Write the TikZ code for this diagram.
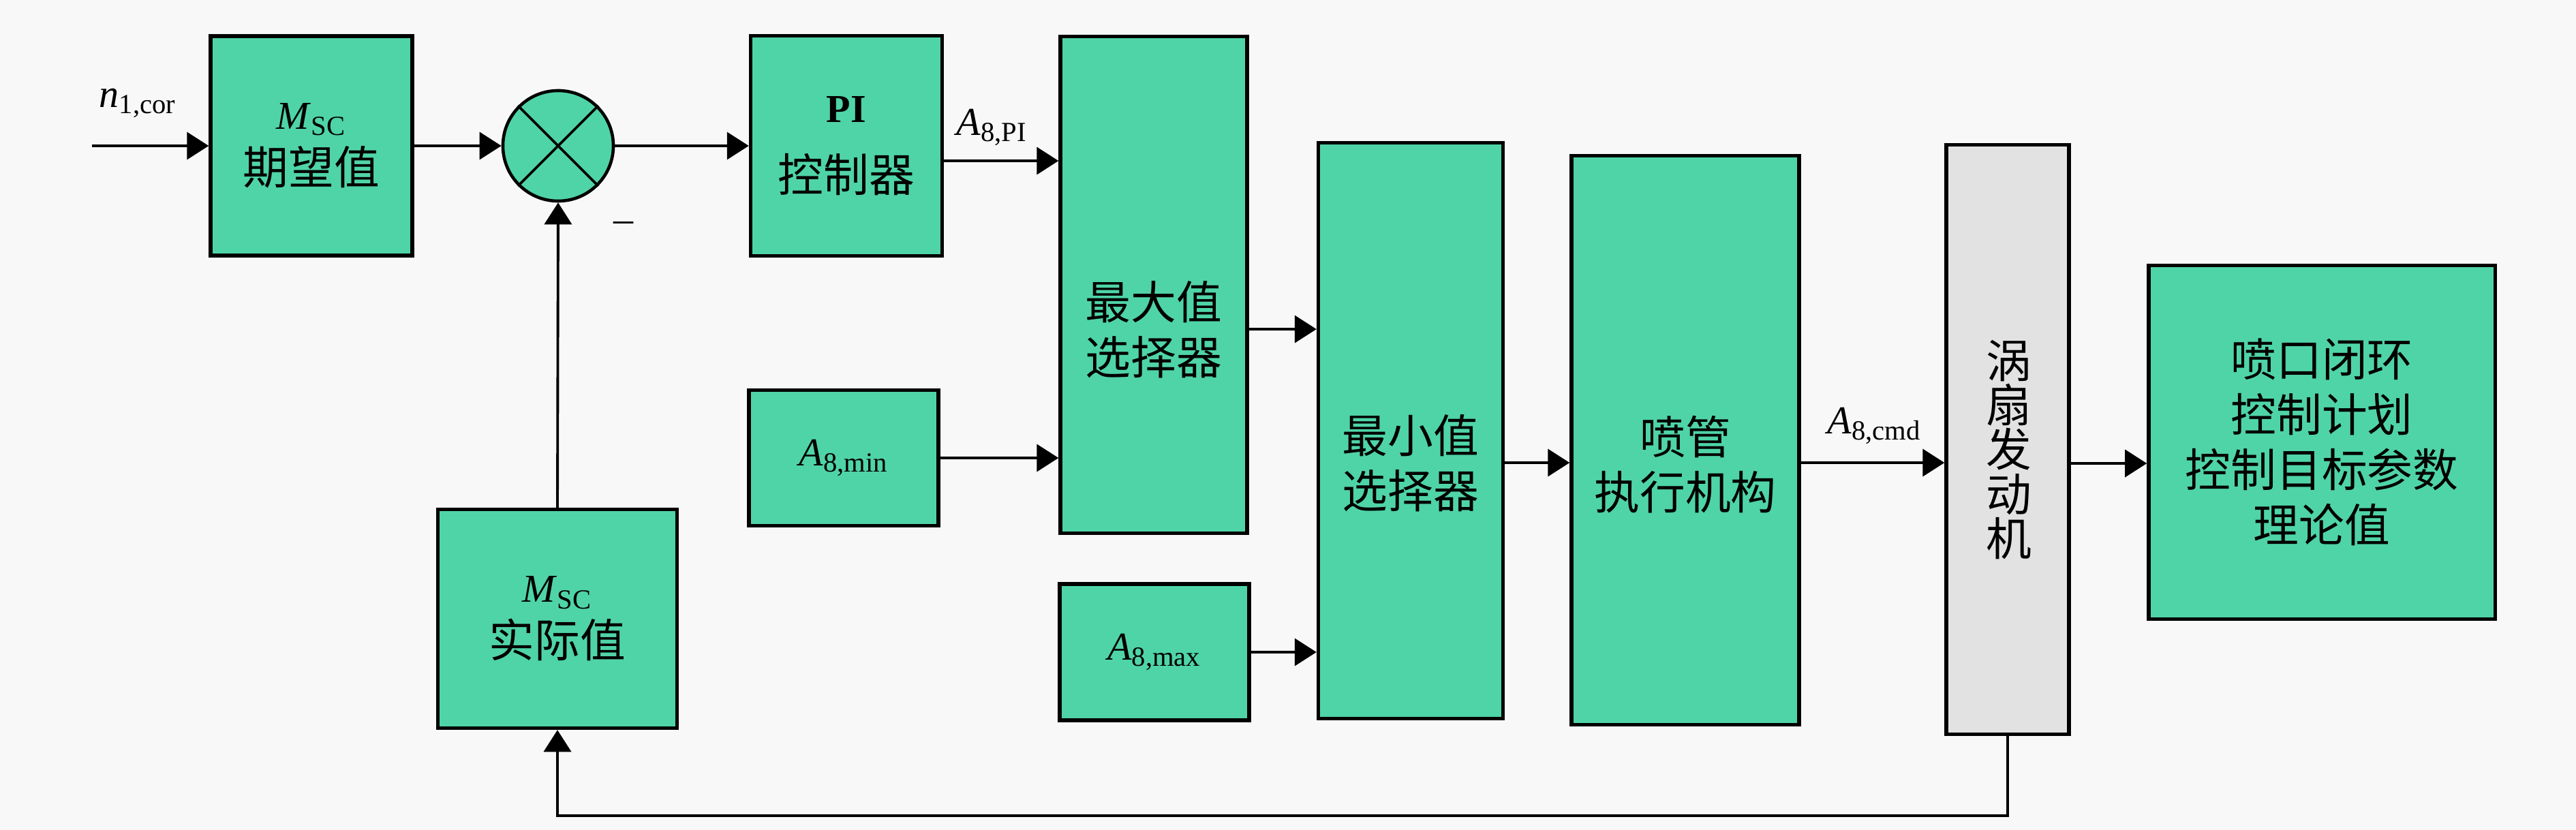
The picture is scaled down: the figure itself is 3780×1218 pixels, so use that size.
\documentclass[tikz,border=0pt]{standalone}
\usepackage{fontspec}
\setmainfont{Liberation Serif}
\newfontfamily\cjk{Noto Sans CJK SC}
\usetikzlibrary{arrows.meta}

\definecolor{boxgreen}{RGB}{79,212,167}
\definecolor{enggray}{RGB}{226,226,226}
\definecolor{bggray}{RGB}{248,248,248}
\newcommand{\vsub}[2]{\textit{#1}\textsubscript{#2}}
\newcommand{\zh}[1]{{\fontsize{19}{23}\selectfont\cjk #1}}

\tikzset{
  blk/.style={draw=black, line width=1.5pt, fill=boxgreen, align=center, inner sep=0pt},
  arr/.style={line width=1.1pt, -{Triangle[length=0.32cm,width=0.4cm]}},
  cjkt/.style={align=center, font=\fontsize{19}{23}\selectfont\cjk},
  lab/.style={anchor=base west, inner sep=0pt}
}

\begin{document}
\begin{tikzpicture}[x=0.01cm, y=-0.01cm, font=\fontsize{16.5}{23}\selectfont]


\fill[bggray] (0,0) rectangle (3780,1218);
\useasboundingbox (0,0) rectangle (3780,1218);

\node[blk, minimum width=2.96cm, minimum height=3.22cm] (want) at (457,214) {\vsub{M}{SC}\\\zh{期望值}};
\node[draw, circle, line width=1.3pt, fill=boxgreen, minimum size=1.62cm] (sum) at (819,214) {};
\draw[line width=1.1pt] (sum.north west) -- (sum.south east) (sum.north east) -- (sum.south west);
\node[blk, minimum width=2.81cm, minimum height=3.23cm] (pi) at (1242,214) {\textbf{PI}\\[6pt]\zh{控制器}};
\node[blk, minimum width=2.74cm, minimum height=7.29cm] (maxsel) at (1693,418) {};
\node[cjkt] (maxtxt) at (1693,484) {最大值\\选择器};
\node[blk, minimum width=2.78cm, minimum height=1.99cm] (amin) at (1238,672) {\vsub{A}{8,min}};
\node[blk, minimum width=2.78cm, minimum height=2.00cm] (amax) at (1694,957) {\vsub{A}{8,max}};
\node[blk, minimum width=2.71cm, minimum height=8.45cm] (minsel) at (2070,632) {};
\node[cjkt] (mintxt) at (2070,680) {最小值\\选择器};
\node[blk, minimum width=3.34cm, minimum height=8.35cm] (nozzle) at (2473,646) {};
\node[cjkt] (noztxt) at (2473,682) {喷管\\执行机构};
\node[blk, fill=enggray, minimum width=1.80cm, minimum height=8.64cm] (engine) at (2946,645) {};
\node[cjkt, font=\fontsize{19}{18.5}\selectfont\cjk] (engtxt) at (2948,660) {涡\\扇\\发\\动\\机};
\node[blk, cjkt, minimum width=5.08cm, minimum height=5.18cm] (result) at (3407,649) {喷口闭环\\控制计划\\控制目标参数\\理论值};
\node[blk, minimum width=3.51cm, minimum height=3.21cm] (actual) at (818,908) {\vsub{M}{SC}\\\zh{实际值}};

\node[lab] (nlab) at (145,157) {\vsub{n}{1,cor}};
\node[lab] (apilab) at (1403,198) {\vsub{A}{8,PI}};
\node[lab] (acmdlab) at (2681,636) {\vsub{A}{8,cmd}};
\node (minus) at (915,333) {--};

\coordinate (in) at (135,214);
\coordinate (fb) at (818,1197);

\draw[arr] (in) -- (want.west);
\draw[arr] (want.east) -- (sum.west);
\draw[arr] (sum.east) -- (pi.west);
\draw[arr] ([yshift=-0.22cm]pi.east) coordinate (pa) -- (pa -| maxsel.west);
\draw[arr] (amin.east) -- (amin.east -| maxsel.west);
\draw[arr] ([yshift=-0.65cm]maxsel.east) coordinate (pb) -- (pb -| minsel.west);
\draw[arr] (amax.east) -- (amax.east -| minsel.west);
\draw[arr] ([yshift=-0.47cm]minsel.east) coordinate (pc) -- (pc -| nozzle.west);
\draw[arr] ([yshift=-0.33cm]nozzle.east) coordinate (pd) -- (pd -| engine.west);
\draw[arr] ([yshift=-0.35cm]engine.east) coordinate (pe) -- (pe -| result.west);
\draw[arr] (engine.south) |- (fb) -- (actual.south);
\draw[arr] (actual.north) -- (sum.south);

\end{tikzpicture}
\end{document}
